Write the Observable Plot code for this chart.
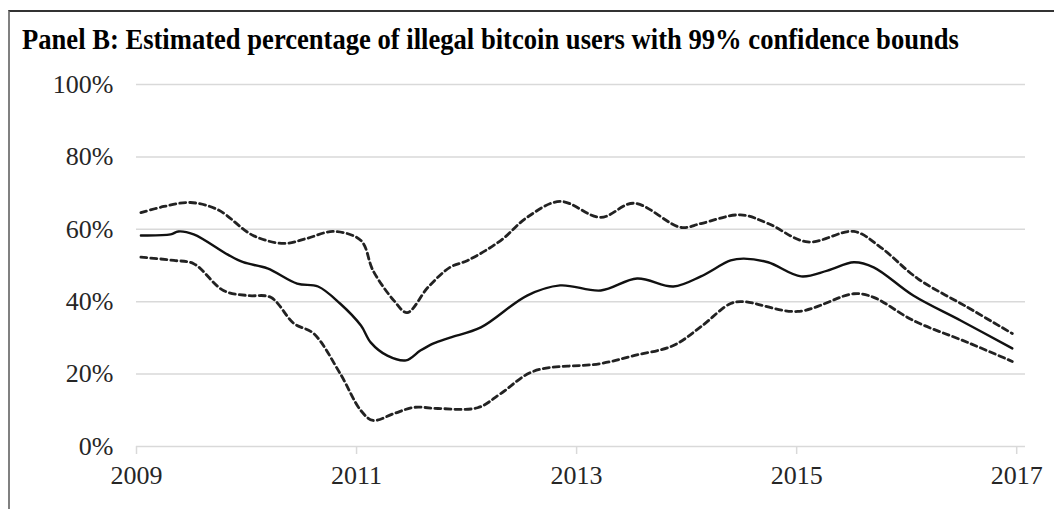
<!DOCTYPE html>
<html><head><meta charset="utf-8">
<script src="https://cdn.jsdelivr.net/npm/d3@7"></script>
<script src="https://cdn.jsdelivr.net/npm/@observablehq/plot@0.6"></script>
<style>
html,body{margin:0;padding:0;background:#fff;}
body{width:1054px;height:509px;overflow:hidden;position:relative;font-family:"Liberation Serif","Times New Roman",serif;}
#frame{position:absolute;left:8px;top:10px;width:1060px;height:520px;border-left:2px solid #808080;border-top:2px solid #333;}
#title{position:absolute;left:22px;top:25px;font-weight:bold;font-size:26.6px;line-height:25px;transform:scaleY(1.13);transform-origin:left top;white-space:nowrap;color:#000;}
#chart{position:absolute;left:0;top:60px;}
</style>
</head><body>
<div id="frame"></div>
<div id="title">Panel B: Estimated percentage of illegal bitcoin users with 99% confidence bounds</div>
<div id="chart"></div>
<script>
const xTicks = [2009, 2011, 2013, 2015, 2017];
const yTicks = [0, 20, 40, 60, 80, 100];

const estYears  = [2009.04,2009.31,2009.38,2009.52,2009.83,2009.97,2010.19,2010.46,2010.65,2010.85,2011.04,2011.13,2011.28,2011.45,2011.58,2011.70,2011.85,2012.13,2012.55,2012.85,2013.22,2013.55,2013.88,2014.13,2014.40,2014.52,2014.74,2015.04,2015.28,2015.52,2015.70,2016.06,2016.49,2016.96];
const estValues = [58.3,58.6,59.4,58.6,53.0,50.9,49.2,45.0,44.2,39.5,33.4,28.7,25.1,23.8,26.5,28.5,30.1,32.9,41.7,44.5,43.1,46.4,44.2,47.0,51.4,51.9,50.9,47.0,48.6,50.9,49.5,41.7,34.8,27.1];

const upperYears  = [2009.04,2009.25,2009.49,2009.74,2010.06,2010.34,2010.55,2010.79,2011.04,2011.15,2011.34,2011.46,2011.65,2011.85,2012.01,2012.31,2012.55,2012.85,2013.22,2013.52,2013.95,2014.13,2014.49,2014.74,2015.10,2015.52,2015.76,2016.10,2016.55,2016.96];
const upperValues = [64.6,66.3,67.4,65.4,58.3,56.1,57.5,59.4,56.9,48.6,40.3,37.0,44.0,49.5,51.4,56.9,63.3,67.7,63.3,67.2,60.5,61.6,64.0,61.6,56.5,59.4,55.1,46.4,38.5,31.2];

const lowerYears  = [2009.04,2009.34,2009.52,2009.79,2010.01,2010.22,2010.43,2010.61,2010.85,2011.04,2011.15,2011.34,2011.52,2011.74,2012.10,2012.31,2012.61,2013.22,2013.52,2013.88,2014.13,2014.40,2014.52,2015.01,2015.52,2015.70,2016.06,2016.55,2016.96];
const lowerValues = [52.3,51.4,50.5,43.1,41.7,41.2,34.0,31.2,20.2,9.9,7.2,9.1,10.8,10.5,10.7,14.6,20.8,22.9,25.1,27.9,33.1,39.5,40.0,37.3,42.2,41.2,34.8,28.8,23.5];

const toRows = (xs, ys) => xs.map((x, i) => ({x, y: ys[i]}));
const est = toRows(estYears, estValues);
const upper = toRows(upperYears, upperValues);
const lower = toRows(lowerYears, lowerValues);

const chart = Plot.plot({
  width: 1054, height: 449,
  marginLeft: 136, marginRight: 29, marginTop: 24, marginBottom: 63,
  style: {fontFamily: '"Liberation Serif", "Times New Roman", serif', fontSize: "26px", color: "#262626", background: "transparent", overflow: "visible"},
  x: {domain: [2009, 2017.08]},
  y: {domain: [0, 100]},
  marks: [
    Plot.gridY(yTicks, {stroke: "#d9d9d9", strokeOpacity: 1, strokeWidth: 1.5}),
    Plot.axisY(yTicks, {tickSize: 0, tickPadding: 23, tickFormat: d => d + "%", fill: "#262626", label: null}),
    Plot.axisX(xTicks, {tickSize: 8, tickPadding: 11, tickFormat: d => String(d), stroke: "#d9d9d9", strokeWidth: 1.5, strokeOpacity: 1, fill: "#262626", label: null}),
    Plot.line(upper, {x: "x", y: "y", stroke: "#222", strokeWidth: 2.8, strokeDasharray: "6,4", curve: "catmull-rom"}),
    Plot.line(lower, {x: "x", y: "y", stroke: "#222", strokeWidth: 2.8, strokeDasharray: "6,4", curve: "catmull-rom"}),
    Plot.line(est, {x: "x", y: "y", stroke: "#111", strokeWidth: 2.4, curve: "catmull-rom"})
  ]
});
document.getElementById("chart").appendChild(chart);
</script>
</body></html>
